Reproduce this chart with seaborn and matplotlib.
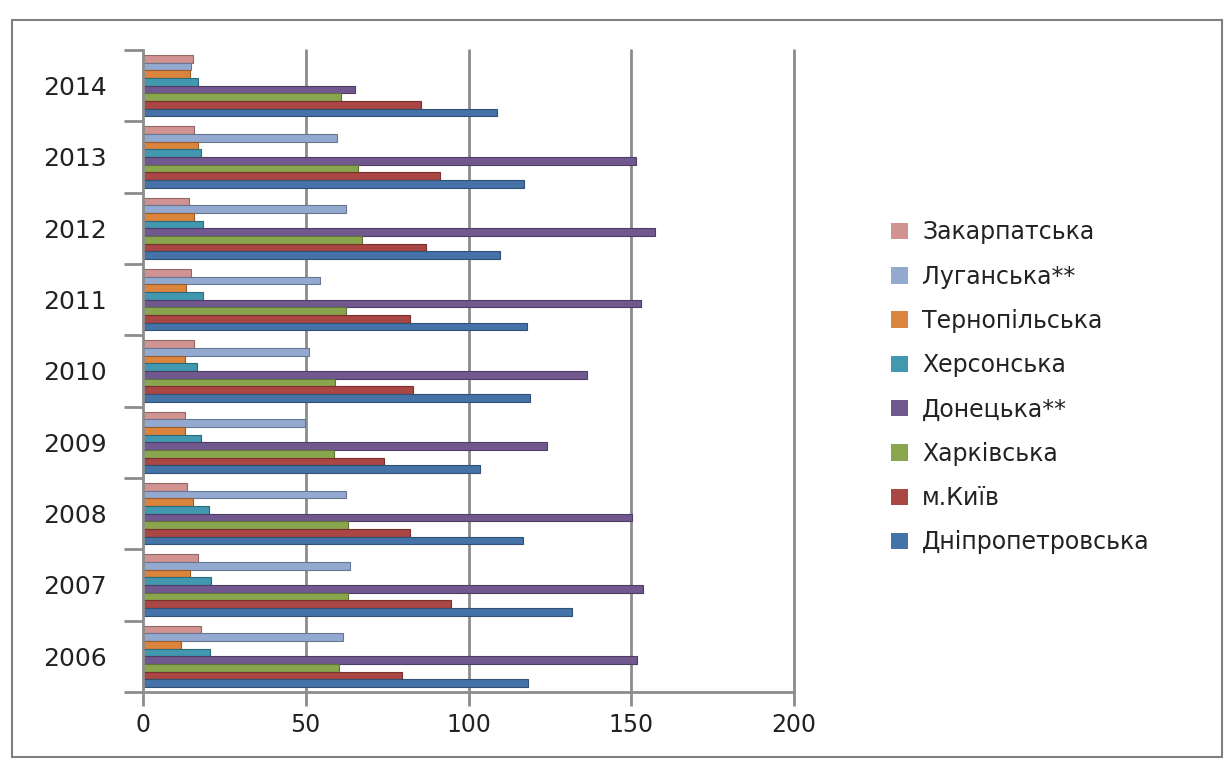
import numpy as np
import pandas as pd
import matplotlib
matplotlib.use("Agg")
import matplotlib.pyplot as plt
import matplotlib.colors as mcolors
from matplotlib.patches import Rectangle
import seaborn as sns

# Years (bottom to top on the chart)
years = ["2006", "2007", "2008", "2009", "2010", "2011", "2012", "2013", "2014"]

# Regions in legend order (top to bottom)
regions = ["Закарпатська", "Луганська**", "Тернопільська", "Херсонська",
           "Донецька**", "Харківська", "м.Київ", "Дніпропетровська"]

zakarpatska      = [17.9, 17.0, 13.6, 12.8, 15.8, 14.6, 14.2, 15.7, 15.4]
luhanska         = [61.3, 63.7, 62.3, 49.7, 51.1, 54.5, 62.3, 59.6, 14.9]
ternopilska      = [11.8, 14.4, 15.4, 12.8, 12.8, 13.3, 15.8, 16.8, 14.4]
khersonska       = [20.5, 20.8, 20.2, 17.9, 16.5, 18.4, 18.4, 17.9, 16.8]
donetska         = [151.9, 153.7, 150.2, 124.1, 136.5, 153.1, 157.3, 151.4, 65.0]
kharkivska       = [60.1, 63.0, 63.0, 58.6, 59.1, 62.3, 67.2, 66.2, 60.9]
kyiv             = [79.5, 94.6, 82.0, 74.0, 83.1, 82.0, 87.0, 91.1, 85.4]
dnipropetrovska  = [118.4, 131.7, 116.6, 103.5, 119.0, 118.0, 109.8, 116.9, 108.9]

colors = ["#D19392", "#93A9CF", "#DB843D", "#4198AF",
          "#71588F", "#89A54E", "#AA4643", "#4572A7"]

series = [zakarpatska, luhanska, ternopilska, khersonska,
          donetska, kharkivska, kyiv, dnipropetrovska]

rows = []
for reg, vals in zip(regions, series):
    for y, v in zip(years, vals):
        rows.append({"year": y, "region": reg, "value": v})
df = pd.DataFrame(rows)

sns.set_theme(style="white")
plt.rcParams["font.family"] = ["DejaVu Sans"]

fig = plt.figure(figsize=(12.28, 7.6), dpi=100)
ax = fig.add_axes([143 / 1228, 1 - 692 / 760, (794 - 143) / 1228, (692 - 50) / 760])

sns.barplot(data=df, y="year", x="value", hue="region",
            order=years[::-1], hue_order=regions,
            palette=colors, orient="h", width=0.86, saturation=1,
            errorbar=None, ax=ax, legend=True)

# darker rim on each bar
for p in ax.patches:
    fc = np.array(mcolors.to_rgb(p.get_facecolor()))
    p.set_edgecolor(tuple(fc * 0.7))
    p.set_linewidth(0.8)

grid_c = "#8c8c8c"
ax.set_xlim(0, 200)
ax.set_ylim(8.5, -0.5)
ax.set_xticks([0, 50, 100, 150, 200])
for xv in [50, 100, 150, 200]:
    ax.axvline(xv, color=grid_c, lw=2, zorder=0, clip_on=False)

for side in ["top", "right"]:
    ax.spines[side].set_visible(False)
for side in ["left", "bottom"]:
    ax.spines[side].set_color(grid_c)
    ax.spines[side].set_linewidth(2)

ax.set_xlabel("")
ax.set_ylabel("")
ax.set_yticks(np.arange(len(years)))
ax.set_yticklabels(years[::-1])
ax.set_yticks(np.arange(-0.5, len(years), 1.0), minor=True)
ax.tick_params(axis="y", which="major", length=0, pad=26, labelsize=18, labelcolor="#222222")
ax.tick_params(axis="y", which="minor", length=14, width=2, color=grid_c, left=True)
ax.tick_params(axis="x", which="major", length=10, width=2, color=grid_c, bottom=True,
               pad=5, labelsize=17, labelcolor="#222222")

ax.get_legend().remove()
handles = [Rectangle((0, 0), 1, 1, facecolor=c, edgecolor="none") for c in colors]
fig.legend(handles, regions, loc="upper left",
           bbox_to_anchor=(870 / 1228, 1 - 199 / 760),
           frameon=False, fontsize=17, labelspacing=0.86,
           handlelength=0.7, handleheight=0.7, handletextpad=0.6,
           labelcolor="#222222")

# outer chart frame
fig.patches.append(Rectangle((12 / 1228, 3 / 760), 1210 / 1228, 737 / 760,
                             transform=fig.transFigure, fill=False,
                             edgecolor="#7f7f7f", lw=1.5))

fig.savefig("out.png", dpi=100, facecolor="white")
